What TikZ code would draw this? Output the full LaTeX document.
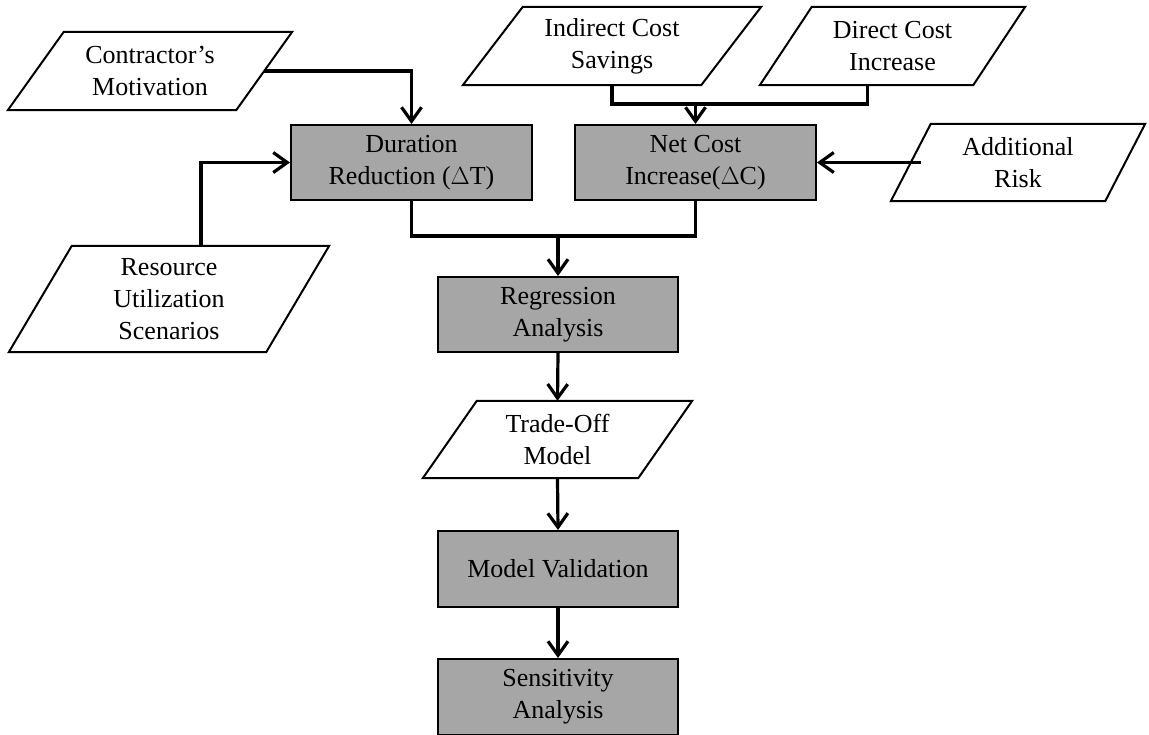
\documentclass[tikz,border=0pt]{standalone}
\usepackage{fontspec}
\setmainfont{Liberation Serif}
\usetikzlibrary{arrows.meta}
\definecolor{boxgray}{RGB}{166,166,166}

% outline of an input/output parallelogram around a (borderless) node
\newcommand\ioshape[2]{%
  \draw[line width=2pt, line join=miter]
    ([xshift=#2/2]#1.north west) -- ([xshift=#2/2]#1.north east) --
    ([xshift=-#2/2]#1.south east) -- ([xshift=-#2/2]#1.south west) -- cycle;}

\begin{document}
\begin{tikzpicture}[x=1pt,y=-1pt,
  txt/.style={align=center, inner sep=0pt, font=\fontsize{26}{32}\selectfont},
  stepbox/.style={txt, draw=black, line width=2pt, fill=boxgray,
    minimum width=241pt, minimum height=75pt},
  datain/.style={txt, minimum height=78pt},
  link/.style={line width=3.2pt},
  flow/.style={line width=3.2pt, -{Straight Barb[length=14pt,width=20pt]}}
]
\useasboundingbox (0,0) rectangle (1149,734);

% process steps
\node[stepbox] (dr) at (411.5,162.5) {Duration\\Reduction ($\Delta$T)};
\node[stepbox] (nc) at (695.5,162.5) {Net Cost\\Increase($\Delta$C)};
\node[stepbox, minimum width=240pt] (rg) at (558,314.5) {Regression\\Analysis};
\node[stepbox, minimum width=240pt, minimum height=76pt] (mv) at (558,569) {Model Validation};
\node[stepbox, minimum width=240pt, minimum height=76pt] (sa) at (558,697) {Sensitivity\\Analysis};

% inputs and outputs
\node[datain, minimum width=228pt] (cm) at (150,71) {Contractor’s\\Motivation};
\ioshape{cm}{56}
\node[datain, minimum width=238pt] (ics) at (612,46) {Indirect Cost\\Savings};
\ioshape{ics}{60}
\node[datain, minimum width=213pt] (dci) at (892.5,46) {Direct Cost\\Increase};
\ioshape{dci}{52}
\node[datain, minimum width=214pt, minimum height=77pt] (ar) at (1018,162.5) {Additional\\Risk};
\ioshape{ar}{40}
\node[datain, minimum width=257pt, minimum height=106pt] (ru) at (169,299) {Resource\\Utilization\\Scenarios};
\ioshape{ru}{63}
\node[datain, minimum width=215pt, minimum height=77pt] (to) at (557.5,439.5) {Trade-Off\\Model};
\ioshape{to}{54}

% connectors
\coordinate (jt) at ([yshift=20pt]nc.north);
\coordinate (jm) at ([yshift=40pt]rg.north);

\draw[flow] (cm.east) -| (dr.north);
\draw[flow] ([xshift=32pt]ru.north) |- (dr.west);
\draw[link] (ics.south) |- (jt) -| ([xshift=-25pt]dci.south);
\draw[flow] (jt) -- (nc.north);
\draw[flow] ([xshift=10pt]ar.west) -- (nc.east);
\draw[link] (dr.south) |- (jm) -| (nc.south);
\draw[flow] (jm) -- (rg.north);
\draw[flow] (rg.south) -- (to.north);
\draw[flow] (to.south) -- (mv.north);
\draw[flow] (mv.south) -- (sa.north);
\end{tikzpicture}
\end{document}
